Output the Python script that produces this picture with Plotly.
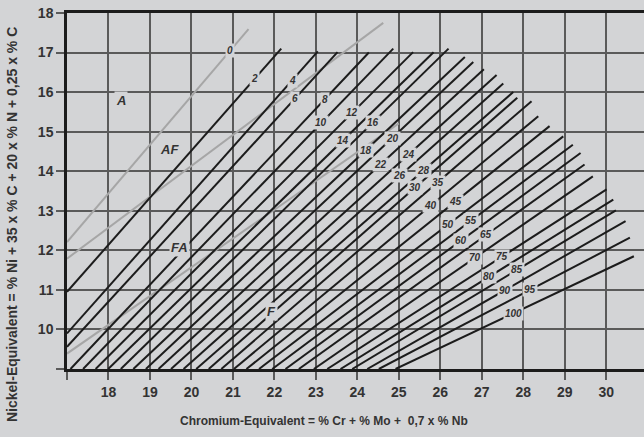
import plotly.graph_objects as go

# ── data ───────────────────────────────────────────────────────────
FN_LEVELS = [2, 4, 6, 8, 10, 12, 14, 16, 18, 20, 22, 24, 26, 28, 30,
             35, 40, 45, 50, 55, 60, 65, 70, 75, 80, 85, 90, 95, 100]

# lower end of each iso-FN line (left edge for 2/4/6, bottom edge otherwise)
START_CR = [17.0, 17.0, 17.0, 17.084, 17.388, 17.690, 17.993, 18.297, 18.599,
            18.902, 19.206, 19.508, 19.811, 20.115, 20.417, 20.720, 21.024,
            21.326, 21.629, 21.948, 22.268, 22.589, 22.951, 23.274, 23.594,
            23.877, 24.238, 24.518, 24.920]
START_NI = [10.95, 9.90, 9.56] + [9.0] * 26

# upper end of each iso-FN line
END_CR = [22.165, 23.047, 23.522, 24.277, 24.865, 25.343, 25.837, 26.198,
          26.591, 26.794, 27.050, 27.356, 27.517, 27.758, 27.855, 28.199,
          28.361, 28.634, 28.964, 29.195, 29.381, 29.477, 29.677, 30.008,
          30.169, 30.232, 30.466, 30.570, 30.666]
END_NI = [17.10, 17.03, 17.01, 17.00, 17.10, 17.01, 17.01, 17.10, 16.89,
          16.76, 16.58, 16.43, 16.22, 16.00, 15.86, 15.77, 15.39, 15.14,
          14.88, 14.67, 14.46, 14.17, 13.87, 13.54, 13.28, 13.01, 12.74,
          12.32, 11.85]

# where the FN number sits along each line
LABEL_CR = [21.52, 22.43, 22.49, 23.21, 23.13, 23.88, 23.66, 24.38, 24.20,
            24.84, 24.56, 25.23, 25.02, 25.59, 25.39, 25.94, 25.76, 26.37,
            26.18, 26.75, 26.50, 27.11, 26.83, 27.49, 27.17, 27.86, 27.55,
            28.16, 27.77]

# grey phase boundaries (FN 0 / A-AF, AF-FA, FA-F)
BOUND_CR = [[17.0, 21.376], [17.0, 24.624], [17.0, 25.0]]
BOUND_NI = [[12.21, 17.59], [11.79, 17.75], [9.39, 15.21]]

REGIONS = ["A", "AF", "FA", "F"]
REGION_CR = [18.31, 19.48, 19.71, 21.93]
REGION_NI = [15.78, 14.55, 12.06, 10.46]

X_TICKS = list(range(17, 31))
Y_TICKS = list(range(9, 19))

BG = "#d3d4d6"
INK = "#1c1c1c"
TXT = "#333333"
FONT = "Arial, Liberation Sans, sans-serif"


def on_line(i, cr):
    t = (cr - START_CR[i]) / (END_CR[i] - START_CR[i])
    return START_NI[i] + t * (END_NI[i] - START_NI[i])


fig = go.Figure()

for xs, ys in zip(BOUND_CR, BOUND_NI):
    fig.add_trace(go.Scatter(x=xs, y=ys, mode="lines",
                             line=dict(color="#a6a6a6", width=2),
                             hoverinfo="skip"))

xs, ys = [], []
for i in range(len(FN_LEVELS)):
    xs += [START_CR[i], END_CR[i], None]
    ys += [START_NI[i], END_NI[i], None]
fig.add_trace(go.Scatter(x=xs, y=ys, mode="lines",
                         line=dict(color=INK, width=2), hoverinfo="skip"))

# FN numbers
for i, fn in enumerate(FN_LEVELS):
    fig.add_annotation(x=LABEL_CR[i], y=on_line(i, LABEL_CR[i]), text=f"<i>{fn}</i>",
                       showarrow=False, bgcolor=BG, borderpad=1,
                       font=dict(family=FONT, size=10, color=TXT, weight="bold"))
# FN 0 sits on the first grey line
g = BOUND_CR[0]
t0 = (20.94 - g[0]) / (g[1] - g[0])
fig.add_annotation(x=20.94, y=BOUND_NI[0][0] + t0 * (BOUND_NI[0][1] - BOUND_NI[0][0]),
                   text="<i>0</i>", showarrow=False, bgcolor=BG, borderpad=1,
                   font=dict(family=FONT, size=10, color=TXT, weight="bold"))

for name, cx, cy in zip(REGIONS, REGION_CR, REGION_NI):
    fig.add_annotation(x=cx, y=cy, text=f"<i>{name}</i>", showarrow=False,
                       bgcolor=BG, borderpad=1,
                       font=dict(family=FONT, size=13, color=TXT, weight="bold"))

# axis titles
fig.add_annotation(x=0.445, y=-0.145, xref="paper", yref="paper",
                   text="Chromium-Equivalent = % Cr + % Mo +  0,7 x % Nb",
                   showarrow=False, yanchor="middle",
                   font=dict(family=FONT, size=12, color=TXT, weight="bold"))
fig.add_annotation(x=-0.095, y=0.405, xref="paper", yref="paper",
                   text="Nickel-Equivalent = % Ni + 35 x % C + 20 x % N + 0,25 x % C",
                   textangle=-90, showarrow=False, xanchor="center",
                   font=dict(family=FONT, size=14, color=TXT, weight="bold"))

fig.update_layout(
    width=644, height=437,
    paper_bgcolor=BG, plot_bgcolor=BG,
    margin=dict(l=67, r=0, t=13, b=68),
    showlegend=False,
    font=dict(family=FONT, color=TXT),
    xaxis=dict(range=[17, 30.91], tickvals=X_TICKS,
               ticktext=[""] + [str(v) for v in X_TICKS[1:]],
               showgrid=True, gridcolor="#5a5a5a", gridwidth=1.6,
               ticks="outside", ticklen=8, tickwidth=1.6, tickcolor="#5a5a5a",
               showline=True, linecolor=INK, linewidth=2.5, mirror=True,
               zeroline=False,
               tickfont=dict(family=FONT, size=14, color=TXT, weight="bold")),
    yaxis=dict(range=[9, 18], tickvals=Y_TICKS,
               ticktext=[""] + [str(v) for v in Y_TICKS[1:]],
               showgrid=True, gridcolor="#5a5a5a", gridwidth=1.6,
               ticks="outside", ticklen=8, tickwidth=1.6, tickcolor="#5a5a5a",
               showline=True, linecolor=INK, linewidth=2.5,
               zeroline=False,
               tickfont=dict(family=FONT, size=14, color=TXT, weight="bold")),
)

fig.write_html("out.html", config={"displayModeBar": False},
               post_script="document.body.style.margin='0';")
